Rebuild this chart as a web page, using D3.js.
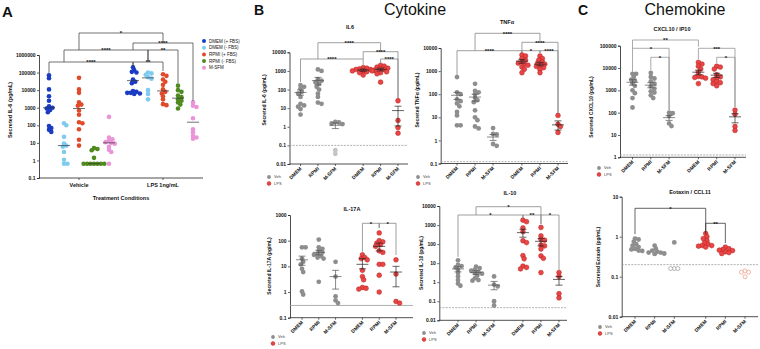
<!DOCTYPE html>
<html>
<head>
<meta charset="utf-8">
<script src="https://cdn.jsdelivr.net/npm/d3@7"></script>
<style>
  body { margin: 0; background: #fff; }
  text { font-family: "Liberation Sans", Arial, sans-serif; }
</style>
</head>
<body>
<svg id="fig" width="760" height="349"></svg>
<script>
// ---- panel A data (IL-6, media comparison) ----
const seriesA = ['DMEM (+ FBS)', 'DMEM (- FBS)', 'RPMI (+ FBS)', 'RPMI (- FBS)', 'M-SFM'];
const colorsA = ['#1a3cc4', '#7fcbf0', '#e04a2b', '#4f8a1f', '#ea95d8'];
const condA = ['Vehicle', 'LPS 1ng/mL'];
const aVeh = [
  [70000, 48000, 11000, 4500, 2500, 1200, 1000, 900, 750, 550, 90, 70, 55, 42],
  [130, 100, 22, 9, 7, 6, 3, 1.1, 0.65, 0.65],
  [50000, 11000, 7000, 2000, 1500, 1300, 700, 400, 150, 130, 60, 15, 7],
  [5, 4.5, 3.8, 1.4, 0.65, 0.65, 0.65, 0.65, 0.65, 0.65, 0.65],
  [300, 20, 16, 13, 11, 10, 9, 6, 4, 3, 0.65]
];
const aLps = [
  [200000, 140000, 110000, 100000, 40000, 30000, 25000, 9000, 8000, 7000, 7000, 6500, 6000],
  [100000, 90000, 75000, 55000, 45000, 10000, 6000, 3000],
  [80000, 65000, 40000, 30000, 20000, 11000, 8000, 6500, 4500, 3000, 1600, 1400],
  [18000, 10000, 8000, 5000, 4000, 3000, 2500, 2000, 1500, 900],
  [2000, 1300, 1100, 250, 60, 40, 25, 20, 17]
];
const aMedVeh = [1000, 7, 900, 0.65, 10];
const aMedLps = [35000, 50000, 9000, 3500, 150];
const aTicks = [0.1, 1, 10, 100, 1000, 10000, 100000, 1000000];

// ---- panels B / C: veh and LPS groups, DMEM / RPMI / M-SFM ----
const cats = ['DMEM', 'RPMI', 'M-SFM'];

const il6Veh = [[170, 140, 110, 75, 60, 40, 17, 14, 12, 9, 4.5],
  [1200, 1000, 350, 300, 250, 200, 140, 100, 60, 40, 20, 17],
  [1.8, 1.7, 1.5, 1.4]];
const il6VehLow = [[], [], [0.055, 0.035]];
const il6Lps = [[1500, 1400, 1300, 1200, 1200, 1100, 1000, 1000, 900, 800, 600],
  [2000, 1800, 1600, 1400, 1300, 1200, 1100, 1000, 900, 800, 700, 250],
  [25, 2.2, 0.9, 0.45]];
const il6Mean = [[70, 50, 95], [300, 180, 450], [1.2, 0.8, 1.6], [1100, 950, 1250], [1200, 1000, 1400], [7.4, 1.1, 12.7]];

const tnfVeh = [[550, 120, 100, 60, 50, 40, 30, 17, 12, 4.5, 4.5],
  [280, 140, 120, 100, 70, 55, 45, 20, 10, 7.5, 4, 3.3],
  [3.4, 1.9, 1.8, 0.7, 0.58]];
const tnfLps = [[5000, 4500, 3500, 3000, 2500, 2200, 2000, 1800, 1500, 1200, 850],
  [4500, 3500, 3000, 2500, 2200, 2000, 1800, 1600, 1400, 1200, 850],
  [12, 5, 4, 2.2]];
const tnfMean = [[90, 60, 120], [75, 50, 100], [1.4, 1.0, 1.8], [2700, 2200, 3200], [2000, 1700, 2400], [4.7, 2.8, 7]];

const il17Veh = [[55, 55, 20, 15, 12, 8, 6, 1.05, 0.8],
  [110, 55, 48, 40, 35, 30, 28, 25, 22, 20, 2.5],
  [15, 4, 0.68, 0.47, 0.37]];
const il17Lps = [[28, 22, 20, 18, 7, 4, 3, 1.5, 1.4, 1.3],
  [200, 100, 90, 80, 70, 60, 40, 35, 12, 12, 4.5, 1],
  [18, 5, 0.43, 0.37]];
const il17Mean = [[18, 11, 25], [35, 28, 42], [4, 1.3, 7], [12, 8, 20], [60, 40, 80], [6, 1.6, 10]];

const il10Veh = [[14, 8, 7, 6, 4.5, 3, 2, 1.3, 0.85, 0.65],
  [6.5, 5.5, 4.5, 4, 3.5, 3, 2.8, 2.2, 1.6, 1.3, 1.2],
  [2, 0.75, 0.6, 0.1, 0.06]];
const il10Lps = [[1800, 1500, 700, 450, 150, 120, 25, 17, 7, 6, 5],
  [750, 270, 180, 160, 90, 80, 55, 24, 18, 3.2],
  [3.2, 2, 0.25, 0.15]];
const il10Mean = [[5, 3.5, 6.5], [3.2, 2.5, 4], [0.7, 0.4, 1.1], [400, 230, 600], [140, 80, 200], [1.4, 0.7, 2]];

const cxclVeh = [[5500, 5500, 4000, 3000, 2700, 2100, 1600, 1000, 750, 450, 170],
  [6000, 4000, 3400, 2500, 2000, 1500, 1200, 900, 800, 600, 450],
  [100, 95, 70, 33, 25]];
const cxclLps = [[18000, 15000, 12000, 9000, 6500, 4200, 4000, 3800, 3500, 2000],
  [12000, 11000, 9000, 5000, 4000, 3500, 3000, 2500, 2200, 2000, 1600],
  [130, 85, 24, 16]];
const cxclMean = [[2300, 1700, 3000], [1700, 1300, 2200], [60, 45, 75], [6500, 5000, 8000], [4800, 3800, 5800], [65, 35, 90]];

const eotVeh = [[0.9, 0.85, 0.75, 0.65, 0.6, 0.55, 0.5, 0.48, 0.45, 0.44],
  [0.6, 0.5, 0.45, 0.42, 0.4, 0.4, 0.38, 0.37],
  [0.72]];
const eotVehOpen = [[], [], [0.16, 0.16, 0.16]];
const eotLps = [[1.2, 1.0, 0.9, 0.8, 0.7, 0.65, 0.6, 0.6, 0.58, 0.55],
  [0.55, 0.5, 0.48, 0.46, 0.45, 0.42, 0.4, 0.38],
  []];
const eotLpsOpen = [[], [], [0.14, 0.13, 0.13, 0.1]];

const svg = d3.select('#fig');
const GRAY = '#8e8e8e', RED = '#e94545', REDLINE = '#b52222';

function label(x, y, s, size, opts = {}) {
  const t = svg.append('text').attr('x', x).attr('y', y).text(s)
    .attr('font-size', size).attr('fill', opts.fill || '#111')
    .attr('font-weight', opts.weight || 'bold')
    .attr('text-anchor', opts.anchor || 'middle');
  if (opts.rotate) t.attr('transform', `rotate(${opts.rotate},${x},${y})`);
  return t;
}

// deterministic beeswarm: offsets that avoid (most) overlap
function swarm(vals, y, r, spread) {
  const pts = vals.map(v => ({ v, y: y(v) })).sort((a, b) => a.y - b.y);
  const placed = [];
  const d = r * spread;
  pts.forEach(p => {
    for (let k = 0; k < 40; k++) {
      const off = k === 0 ? 0 : (k % 2 ? 1 : -1) * Math.ceil(k / 2) * r * 0.5;
      if (placed.every(q => Math.hypot(q.dx - off, q.y - p.y) >= d)) { p.dx = off; break; }
    }
    if (p.dx === undefined) p.dx = 0;
    placed.push(p);
  });
  return pts;
}

function bracket(g, x1, x2, yl, e1, e2, txt, col, lx) {
  g.append('path').attr('d', `M${x1},${e1}V${yl}H${x2}V${e2}`)
    .attr('fill', 'none').attr('stroke', col).attr('stroke-width', 0.7);
  g.append('text').attr('x', lx !== undefined ? lx : (x1 + x2) / 2).attr('y', yl + 2.3)
    .attr('text-anchor', 'middle').attr('font-size', 6).attr('font-weight', 'bold')
    .attr('fill', '#111').text(txt);
}

function styleAxis(g, fs) {
  g.selectAll('.domain').attr('stroke', '#222').attr('stroke-width', 0.8);
  g.selectAll('.tick line').attr('stroke', '#222').attr('stroke-width', 0.7);
  g.selectAll('.tick text').attr('font-size', fs).attr('font-weight', 'bold')
    .attr('fill', '#111').attr('font-family', '"Liberation Sans", Arial, sans-serif');
}

// ================= Panel A =================
(function () {
  const g = svg.append('g');
  const y = d3.scaleLog().domain([0.1, 1e6]).range([178, 55]);
  const xc = d3.scalePoint().domain(condA).range([79, 163]);
  const xs = d3.scaleLinear().domain([0, 4]).range([-30, 30]);

  const ax = g.append('g').attr('transform', 'translate(39,0)')
    .call(d3.axisLeft(y).tickValues(aTicks).tickFormat(d => String(d)).tickSize(2).tickPadding(1.5));
  styleAxis(ax, 5);
  g.append('line').attr('x1', 39).attr('x2', 203).attr('y1', 178).attr('y2', 178)
    .attr('stroke', '#222').attr('stroke-width', 0.8);
  condA.forEach(c => {
    g.append('line').attr('x1', xc(c)).attr('x2', xc(c)).attr('y1', 178).attr('y2', 180)
      .attr('stroke', '#222').attr('stroke-width', 0.7);
    label(xc(c), 187, c, 5.5);
  });
  label(121, 200, 'Treatment Conditions', 5.5);
  label(12, 110, 'Secreted IL-6 (pg/mL)', 5.5, { rotate: -90 });

  [aVeh, aLps].forEach((set, ci) => {
    const meds = ci ? aMedLps : aMedVeh;
    set.forEach((vals, si) => {
      const cx = xc(condA[ci]) + xs(si);
      swarm(vals, y, 2.3, 1.25).forEach(p => {
        g.append('circle').attr('cx', cx + p.dx).attr('cy', p.y).attr('r', 2.3)
          .attr('fill', colorsA[si]);
      });
      g.append('line').attr('x1', cx - 6).attr('x2', cx + 6)
        .attr('y1', y(meds[si])).attr('y2', y(meds[si]))
        .attr('stroke', '#333').attr('stroke-width', 0.7);
    });
  });

  const gx = i => xc(condA[Math.floor(i / 5)]) + xs(i % 5);
  const col = '#333';
  bracket(g, gx(0), gx(5), 62, 73, 66, '****', col);
  bracket(g, gx(5), gx(7), 62, 66, 71, '**', col);
  bracket(g, gx(1), gx(6), 50, 62, 61, '****', col);
  bracket(g, gx(6), gx(8), 50, 61, 83, '**', col);
  bracket(g, gx(5), gx(9), 43, 50, 101, '****', col);
  bracket(g, gx(2), gx(7), 33, 50, 43, '*', col);

  seriesA.forEach((s, i) => {
    const ly = 41 + i * 6.7;
    g.append('circle').attr('cx', 204).attr('cy', ly).attr('r', 2).attr('fill', colorsA[i]);
    label(209, ly + 1.6, s, 4.5, { anchor: 'start', weight: 'normal' });
  });
  label(2, 17, 'A', 15, { anchor: 'start' });
})();

// ================= Panels B and C =================
const xIdx = [0, 1, 2, 3.6, 4.6, 5.6];

const panels = [
  { title: 'IL6', tx: 350, ty: 29, ylab: 'Secreted IL-6 (pg/mL)', ylx: 266, yly: 100,
    ax: 289.5, axEnd: 408, yr: [164, 52.3], dom: [0.01, 10000], xr: [300.5, 398],
    veh: il6Veh, lps: il6Lps, vehLow: il6VehLow, mean: il6Mean, lod: 0.1, dash: true, leg: [269, 177], bcol: '#777',
    br: [[1, 4, 42.7, 59, 51.7, '****'], [0, 3, 59, 82, 65, '****'], [3, 5, 51.7, 59, 98, '****'], [4, 5, 59, 63, 98, '****']] },
  { title: 'TNF\u03b1', tx: 507, ty: 24, ylab: 'Secreted TNF\u03b1 (pg/mL)', ylx: 419, yly: 100,
    ax: 440.7, axEnd: 568, yr: [163.5, 48], dom: [0.1, 10000], xr: [457, 558],
    veh: tnfVeh, lps: tnfLps, mean: tnfMean, lod: 0.12, dash: true, leg: [418, 177], bcol: '#777',
    br: [[1, 4, 33.3, 50.7, 41.7, '****'], [0, 3, 50.7, 75, 53, '****'], [3, 5, 42.3, 50.7, 113, '****'],
         [3, 4, 50.7, 53, 53, '*'], [4, 5, 50.7, 53, 113, '****']] },
  { title: 'IL-17A', tx: 352, ty: 211, ylab: 'Secreted IL-17A (pg/mL)', ylx: 271, yly: 266,
    ax: 290, axEnd: 413, yr: [317.7, 215], dom: [0.1, 1000], xr: [302, 396],
    veh: il17Veh, lps: il17Lps, mean: il17Mean, lod: 0.3, dash: false, leg: [273, 337], bcol: '#777',
    br: [[3, 4, 223.3, 251.7, 228, '*'], [4, 5, 223.3, 228, 255, '*']] },
  { title: 'IL-10', tx: 510, ty: 195, ylab: 'Secreted IL-10 (pg/mL)', ylx: 423, yly: 263,
    ax: 439.3, axEnd: 567, yr: [320.3, 206], dom: [0.01, 10000], xr: [458, 559],
    veh: il10Veh, lps: il10Lps, mean: il10Mean, lod: 0.046, dash: true, leg: [424, 333], bcol: '#777',
    br: [[1, 4, 206.7, 215, 215, '*'], [0, 3, 215, 257, 218, '*'], [3, 4, 215, 218, 224, '**'], [4, 5, 215, 224, 270, '*']] },
  { title: 'CXCL10 / IP10', tx: 672, ty: 31, ylab: 'Secreted CXCL10 (pg/mL)', ylx: 593, yly: 107,
    ax: 620, axEnd: 746, yr: [157.3, 45.7], dom: [1, 100000], xr: [632.5, 735],
    veh: cxclVeh, lps: cxclLps, mean: cxclMean, lod: 1.27, dash: true, leg: [599, 168], bcol: '#888',
    br: [[0, 3, 40, 48.3, 46.7, '**'], [0, 2, 48.3, 71.7, 110, '*'], [1, 2, 57.3, 70, 110, '*'],
         [3, 5, 48.3, 59, 107, '***'], [4, 5, 57.3, 63, 107, '*']] },
  { title: 'Eotaxin / CCL11', tx: 690, ty: 194, ylab: 'Secreted Eotaxin (pg/mL)', ylx: 600, yly: 257,
    ax: 621.7, axEnd: 758, yr: [316.7, 196.7], dom: [0.01, 10], xr: [635, 745],
    veh: eotVeh, lps: eotLps, vehOpen: eotVehOpen, lpsOpen: eotLpsOpen, mean: null, lod: 0.2, dash: true,
    leg: [600, 327], bcol: '#222',
    br: [[0, 3, 208.3, 234, 234, '*'], [3, 4, 223.3, 232, 243, '**']] }
];

panels.forEach(p => {
  const g = svg.append('g');
  const y = d3.scaleLog().domain(p.dom).range(p.yr);
  const x = d3.scaleLinear().domain([0, 5.6]).range(p.xr);
  const ticks = [];
  for (let v = p.dom[0]; v <= p.dom[1] * 1.001; v *= 10) ticks.push(+v.toPrecision(3));

  const ay = g.append('g').attr('transform', `translate(${p.ax},0)`)
    .call(d3.axisLeft(y).tickValues(ticks).tickFormat(d => String(d)).tickSize(2).tickPadding(1.5));
  styleAxis(ay, 5);
  g.append('line').attr('x1', p.ax).attr('x2', p.axEnd).attr('y1', p.yr[0]).attr('y2', p.yr[0])
    .attr('stroke', '#222').attr('stroke-width', 0.8);
  xIdx.forEach((xi, i) => {
    const cx = x(xi);
    g.append('line').attr('x1', cx).attr('x2', cx).attr('y1', p.yr[0]).attr('y2', p.yr[0] + 2)
      .attr('stroke', '#222').attr('stroke-width', 0.7);
    label(cx + 1.5, p.yr[0] + 5, cats[i % 3], 5, { anchor: 'end', rotate: -45 });
  });

  // detection limit
  g.append('line').attr('x1', p.ax).attr('x2', p.axEnd).attr('y1', y(p.lod)).attr('y2', y(p.lod))
    .attr('stroke', '#9a9a9a').attr('stroke-width', 0.8)
    .attr('stroke-dasharray', p.dash ? '2,1.2' : null);

  label(p.tx, p.ty, p.title, 5.5);
  label(p.ylx, p.yly, p.ylab, 5, { rotate: -90 });

  const groups = [...p.veh, ...p.lps];
  groups.forEach((vals, i) => {
    const lps = i >= 3;
    const cx = x(xIdx[i]);
    const low = (p.vehLow && !lps) ? p.vehLow[i] : [];
    const open = lps ? (p.lpsOpen ? p.lpsOpen[i - 3] : []) : (p.vehOpen ? p.vehOpen[i] : []);
    const all = vals.map(v => ({ v, k: 'n' }))
      .concat(low.map(v => ({ v, k: 'low' })), open.map(v => ({ v, k: 'open' })));
    const sw = swarm(all.map(d => d.v), y, 2.4, 1.35);
    const kinds = all.slice().sort((a, b) => y(a.v) - y(b.v)).map(d => d.k);
    sw.forEach((pt, j) => {
      const c = g.append('circle').attr('cx', cx + pt.dx).attr('cy', pt.y).attr('r', 2.4);
      const k = kinds[j];
      if (k === 'open') {
        c.attr('fill', '#fff').attr('stroke', lps ? '#e9866c' : '#888').attr('stroke-width', 0.6).attr('r', 2);
      } else if (k === 'low') {
        c.attr('fill', '#c4c4c4');
      } else if (lps) {
        c.attr('fill', RED).attr('stroke', REDLINE).attr('stroke-width', 0.5);
      } else {
        c.attr('fill', GRAY);
      }
    });
    if (p.mean) {
      const [m, lo, hi] = p.mean[i];
      const col = lps ? '#222' : '#555';
      g.append('line').attr('x1', cx - 6).attr('x2', cx + 6).attr('y1', y(m)).attr('y2', y(m))
        .attr('stroke', col).attr('stroke-width', 0.7);
      g.append('path').attr('d', `M${cx - 3.5},${y(hi)}H${cx + 3.5}M${cx},${y(hi)}V${y(lo)}M${cx - 3.5},${y(lo)}H${cx + 3.5}`)
        .attr('fill', 'none').attr('stroke', col).attr('stroke-width', 0.7);
    }
  });

  p.br.forEach(b => bracket(g, x(xIdx[b[0]]), x(xIdx[b[1]]), b[2], b[3], b[4], b[5], p.bcol));

  // legend
  const [lx, ly] = p.leg;
  g.append('circle').attr('cx', lx).attr('cy', ly).attr('r', 1.9).attr('fill', GRAY);
  g.append('circle').attr('cx', lx).attr('cy', ly + 6.5).attr('r', 1.9).attr('fill', RED)
    .attr('stroke', REDLINE).attr('stroke-width', 0.5);
  label(lx + 5, ly + 1.4, 'Veh', 4, { anchor: 'start', weight: 'normal', fill: '#444' });
  label(lx + 5, ly + 7.9, 'LPS', 4, { anchor: 'start', weight: 'normal', fill: '#444' });
});

label(254, 15, 'B', 14, { anchor: 'start' });
label(578, 15, 'C', 14, { anchor: 'start' });
label(415, 15, 'Cytokine', 16, { weight: 'normal' });
label(685, 15, 'Chemokine', 16, { weight: 'normal' });
</script>
</body>
</html>
